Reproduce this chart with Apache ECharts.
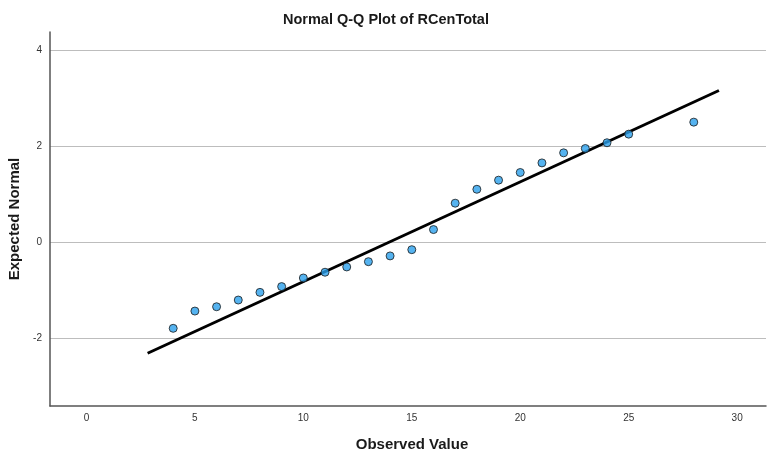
<!DOCTYPE html>
<html>
<head>
<meta charset="utf-8">
<script src="https://cdn.jsdelivr.net/npm/echarts@6/dist/echarts.min.js"></script>
<style>html,body{margin:0;padding:0;background:#fff;overflow:hidden;}#c{width:767px;height:452px;}</style>
</head>
<body>
<div id="c"></div>
<script>
const chartTitle = 'Normal Q-Q Plot of RCenTotal';
const xAxisName = 'Observed Value';
const yAxisName = 'Expected Normal';
const observed = [4,5,6,7,8,9,10,11,12,13,14,15,16,17,18,19,20,21,22,23,24,25,28];
const expected = [-1.79,-1.43,-1.34,-1.20,-1.04,-0.92,-0.74,-0.62,-0.51,-0.40,-0.28,-0.15,0.27,0.82,1.11,1.30,1.46,1.66,1.87,1.96,2.08,2.26,2.51];
const fitLineX = [2.82, 29.16];
const fitLineY = [-2.31, 3.17];
const xRange = [-1.68, 31.33];
const yRange = [-3.41, 4.39];

const chart = echarts.init(document.getElementById('c'), null, {renderer: 'canvas', width: 767, height: 452});
const font = 'Liberation Sans, Arial, sans-serif';
chart.setOption({
  animation: false,
  backgroundColor: '#ffffff',
  title: {
    text: chartTitle, left: 283, top: 12, padding: 0,
    textStyle: {fontFamily: font, fontSize: 14.5, fontWeight: 'bold', color: '#1a1a1a'}
  },
  grid: {left: 50, right: 1, top: 32, bottom: 46, containLabel: false, outerBoundsMode: 'none'},
  xAxis: {
    type: 'value', min: xRange[0], max: xRange[1], minInterval: 5, maxInterval: 5,
    name: xAxisName, nameLocation: 'middle', nameGap: 31,
    nameTextStyle: {fontFamily: font, fontSize: 15, fontWeight: 'bold', color: '#1a1a1a', padding: [0, 0, 0, 8]},
    axisLine: {show: true, onZero: false, lineStyle: {color: '#555', width: 1.5}},
    axisTick: {show: false},
    axisLabel: {showMinLabel: false, showMaxLabel: false, fontFamily: font, fontSize: 10, color: '#333', margin: 7},
    splitLine: {show: false}
  },
  yAxis: {
    type: 'value', min: yRange[0], max: yRange[1], minInterval: 2, maxInterval: 2,
    name: yAxisName, nameLocation: 'middle', nameGap: 28, nameRotate: 90,
    nameTextStyle: {fontFamily: font, fontSize: 15, fontWeight: 'bold', color: '#1a1a1a'},
    axisLine: {show: true, onZero: false, lineStyle: {color: '#555', width: 1.5}},
    axisTick: {show: false},
    axisLabel: {showMinLabel: false, showMaxLabel: false, fontFamily: font, fontSize: 10, color: '#333', margin: 8},
    splitLine: {show: true, showMinLine: false, showMaxLine: false, lineStyle: {color: '#bdbdbd', width: 1}}
  },
  series: [
    {
      type: 'line', data: fitLineX.map((x, i) => [x, fitLineY[i]]),
      symbol: 'none', lineStyle: {color: '#000', width: 3}, z: 2, silent: true
    },
    {
      type: 'scatter', data: observed.map((x, i) => [x, expected[i]]),
      symbol: 'circle', symbolSize: 8,
      itemStyle: {color: '#2ba0ec', borderColor: '#1a1a1a', borderWidth: 1}, z: 3
    }
  ]
});
</script>
</body>
</html>
